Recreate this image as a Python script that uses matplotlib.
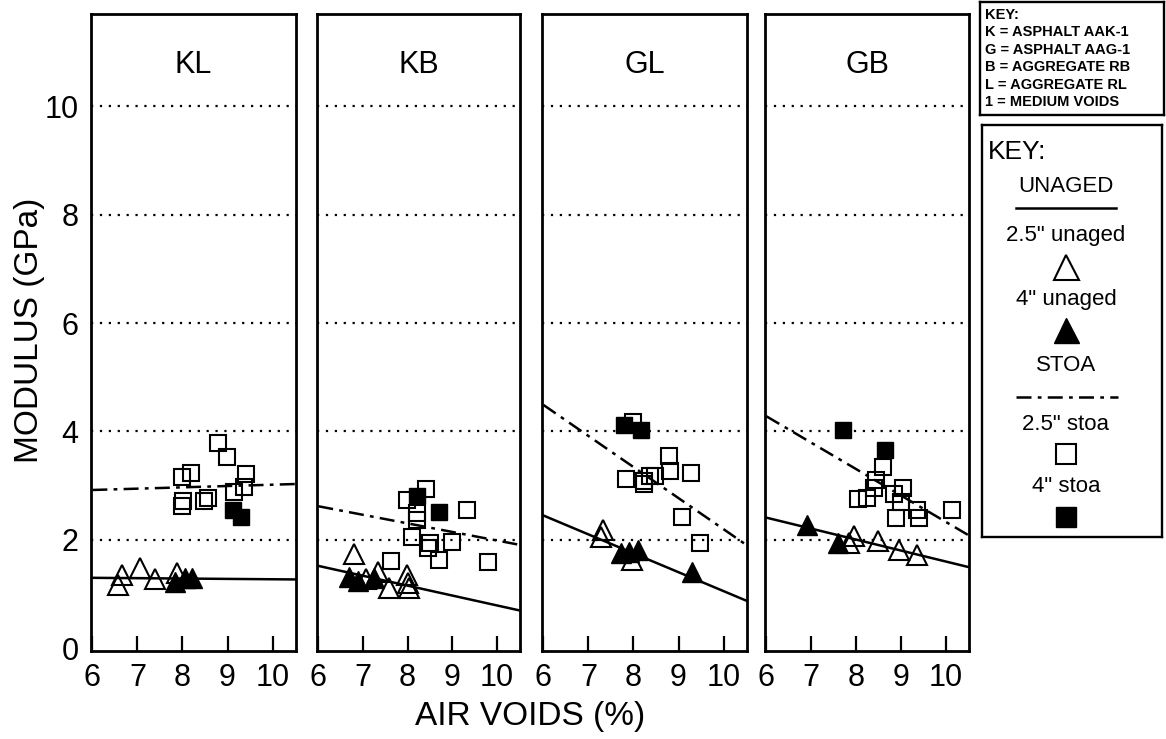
import matplotlib
matplotlib.use('Agg')
import matplotlib.pyplot as plt

plt.rcParams['font.family'] = ['Liberation Sans', 'DejaVu Sans']

# panels and fitted lines (modulus at 6 % and 10.5 % air voids)
panels = ['KL', 'KB', 'GL', 'GB']
line_x = [6.0, 10.5]
unaged_fit = [[1.30, 1.27], [1.52, 0.70], [2.45, 0.88], [2.41, 1.50]]
stoa_fit = [[2.92, 3.03], [2.62, 1.91], [4.49, 1.91], [4.28, 2.09]]

# 2.5" unaged (open triangles)
unaged25_x = [[6.57, 6.66, 7.05, 7.39, 7.88],
              [6.81, 7.33, 7.58, 7.99, 8.01, 8.03, 7.07],
              [7.33, 7.29, 7.96],
              [7.85, 7.95, 8.50, 8.95, 9.35]]
unaged25_y = [[1.16, 1.35, 1.48, 1.27, 1.38],
              [1.74, 1.40, 1.12, 1.35, 1.20, 1.12, 1.27],
              [2.19, 2.06, 1.63],
              [1.95, 2.08, 1.98, 1.82, 1.72]]

# 4" unaged (filled triangles)
unaged4_x = [[7.84, 8.06, 8.22], [6.68, 6.90, 7.25], [7.73, 7.89, 8.11, 9.29], [6.90, 7.60]]
unaged4_y = [[1.22, 1.29, 1.29], [1.31, 1.25, 1.29], [1.76, 1.78, 1.81, 1.40], [2.28, 1.94]]

# 2.5" stoa (open squares)
stoa25_x = [[8.78, 8.99, 7.99, 8.19, 8.02, 7.99, 8.47, 8.56, 9.42, 9.37, 9.15],
            [8.41, 7.99, 8.21, 8.10, 8.45, 8.50, 8.71, 7.62, 9.00, 9.33, 9.81, 8.21],
            [7.98, 7.84, 8.24, 8.36, 8.24, 8.78, 8.80, 9.27, 9.07, 9.47, 8.47],
            [8.60, 8.45, 8.40, 8.05, 8.25, 8.85, 9.05, 9.00, 9.35, 9.40, 8.90, 10.15]]
stoa25_y = [[3.78, 3.53, 3.16, 3.23, 2.71, 2.62, 2.71, 2.78, 3.21, 2.97, 2.88],
            [2.93, 2.73, 2.37, 2.06, 1.85, 1.94, 1.63, 1.61, 1.96, 2.56, 1.59, 2.50],
            [4.18, 3.12, 3.08, 3.18, 3.03, 3.55, 3.27, 3.23, 2.43, 1.94, 3.18],
            [3.35, 3.10, 2.95, 2.75, 2.78, 2.85, 2.95, 2.70, 2.55, 2.40, 2.40, 2.55]]

# 4" stoa (filled squares)
stoa4_x = [[9.12, 9.30], [8.21, 8.71], [7.78, 8.16], [7.72, 8.65]]
stoa4_y = [[2.56, 2.43], [2.80, 2.52], [4.11, 4.02], [4.02, 3.65]]

xticks = [6, 7, 8, 9, 10]
yticks = [0, 2, 4, 6, 8, 10]
grid_levels = [2, 4, 6, 8, 10]

key1_lines = ['KEY:', 'K = ASPHALT AAK-1', 'G = ASPHALT AAG-1', 'B = AGGREGATE RB',
              'L = AGGREGATE RL', '1 = MEDIUM VOIDS']

W, H = 1166, 739
fig = plt.figure(figsize=(W / 100, H / 100), dpi=100)


def px_axes(x0, y0, x1, y1):
    return fig.add_axes([x0 / W, 1 - y1 / H, (x1 - x0) / W, (y1 - y0) / H])


dashdot = (0, (6, 2.5, 1.5, 2.5))
lefts = [91, 317, 542, 765]
rights = [296, 520, 747, 969]

for i, name in enumerate(panels):
    ax = px_axes(lefts[i], 14, rights[i], 651)
    ax.set_xlim(5.97, 10.52)
    ax.set_ylim(-0.05, 11.7)
    for g in grid_levels:
        ax.axhline(g, color='k', lw=1.6, ls=(0, (1, 3)), zorder=1)
    ax.plot(line_x, unaged_fit[i], color='k', lw=1.8, zorder=2)
    ax.plot(line_x, stoa_fit[i], color='k', lw=1.8, ls=dashdot, zorder=2)
    ax.plot(unaged25_x[i], unaged25_y[i], ls='none', marker='^', ms=14,
            mfc='none', mec='k', mew=1.5, zorder=3)
    ax.plot(unaged4_x[i], unaged4_y[i], ls='none', marker='^', ms=14,
            mfc='k', mec='k', zorder=3)
    ax.plot(stoa25_x[i], stoa25_y[i], ls='none', marker='s', ms=11.5,
            mfc='none', mec='k', mew=1.5, zorder=3)
    ax.plot(stoa4_x[i], stoa4_y[i], ls='none', marker='s', ms=11.5,
            mfc='k', mec='k', zorder=3)

    ax.set_xticks(xticks)
    ax.set_xticklabels([str(t) for t in xticks])
    ax.tick_params(axis='x', direction='in', length=11, width=1.6, labelsize=22, pad=9)
    ax.set_yticks(yticks)
    if i == 0:
        ax.set_yticklabels([str(t) for t in yticks])
    else:
        ax.set_yticklabels([])
    ax.tick_params(axis='y', length=0, labelsize=22, pad=9)
    for s in ax.spines.values():
        s.set_linewidth(2.0)
    ax.text(0.5, 0.92, name, transform=ax.transAxes, ha='center', va='center', fontsize=22)

fig.text(30 / W, 1 - 330 / H, 'MODULUS (GPa)', rotation=90, ha='center', va='center', fontsize=24)
fig.text(530 / W, 1 - 717 / H, 'AIR VOIDS (%)', ha='center', va='center', fontsize=24)

# top key box (pixel coordinates)
k1 = px_axes(980, 2, 1164, 115)
k1.set_xlim(980, 1164)
k1.set_ylim(115, 2)
k1.set_xticks([])
k1.set_yticks([])
for s in k1.spines.values():
    s.set_linewidth(1.7)
for j, t in enumerate(key1_lines):
    k1.text(985, 15 + j * 17.4, t, ha='left', va='center', fontsize=10.5, fontweight='bold')

# symbol key box
k2 = px_axes(982, 125, 1162, 537)
k2.set_xlim(982, 1162)
k2.set_ylim(537, 125)
k2.set_xticks([])
k2.set_yticks([])
for s in k2.spines.values():
    s.set_linewidth(1.7)
cx = 1066
k2.text(988, 152, 'KEY:', ha='left', va='center', fontsize=19)
k2.text(cx, 186, 'UNAGED', ha='center', va='center', fontsize=16)
k2.plot([1016, 1116], [208, 208], color='k', lw=1.8)
k2.text(cx, 236, '2.5" unaged', ha='center', va='center', fontsize=16)
k2.plot([cx], [267], marker='^', ms=18, mfc='none', mec='k', mew=1.5)
k2.text(cx, 300, '4" unaged', ha='center', va='center', fontsize=16)
k2.plot([cx], [330], marker='^', ms=18, mfc='k', mec='k')
k2.text(cx, 366, 'STOA', ha='center', va='center', fontsize=16)
k2.plot([1016, 1118], [397, 397], color='k', lw=1.8, ls=dashdot)
k2.text(cx, 425, '2.5" stoa', ha='center', va='center', fontsize=16)
k2.plot([cx], [454], marker='s', ms=14, mfc='none', mec='k', mew=1.5)
k2.text(cx, 487, '4" stoa', ha='center', va='center', fontsize=16)
k2.plot([cx], [517], marker='s', ms=14, mfc='k', mec='k')

fig.savefig('out.png', dpi=100)
